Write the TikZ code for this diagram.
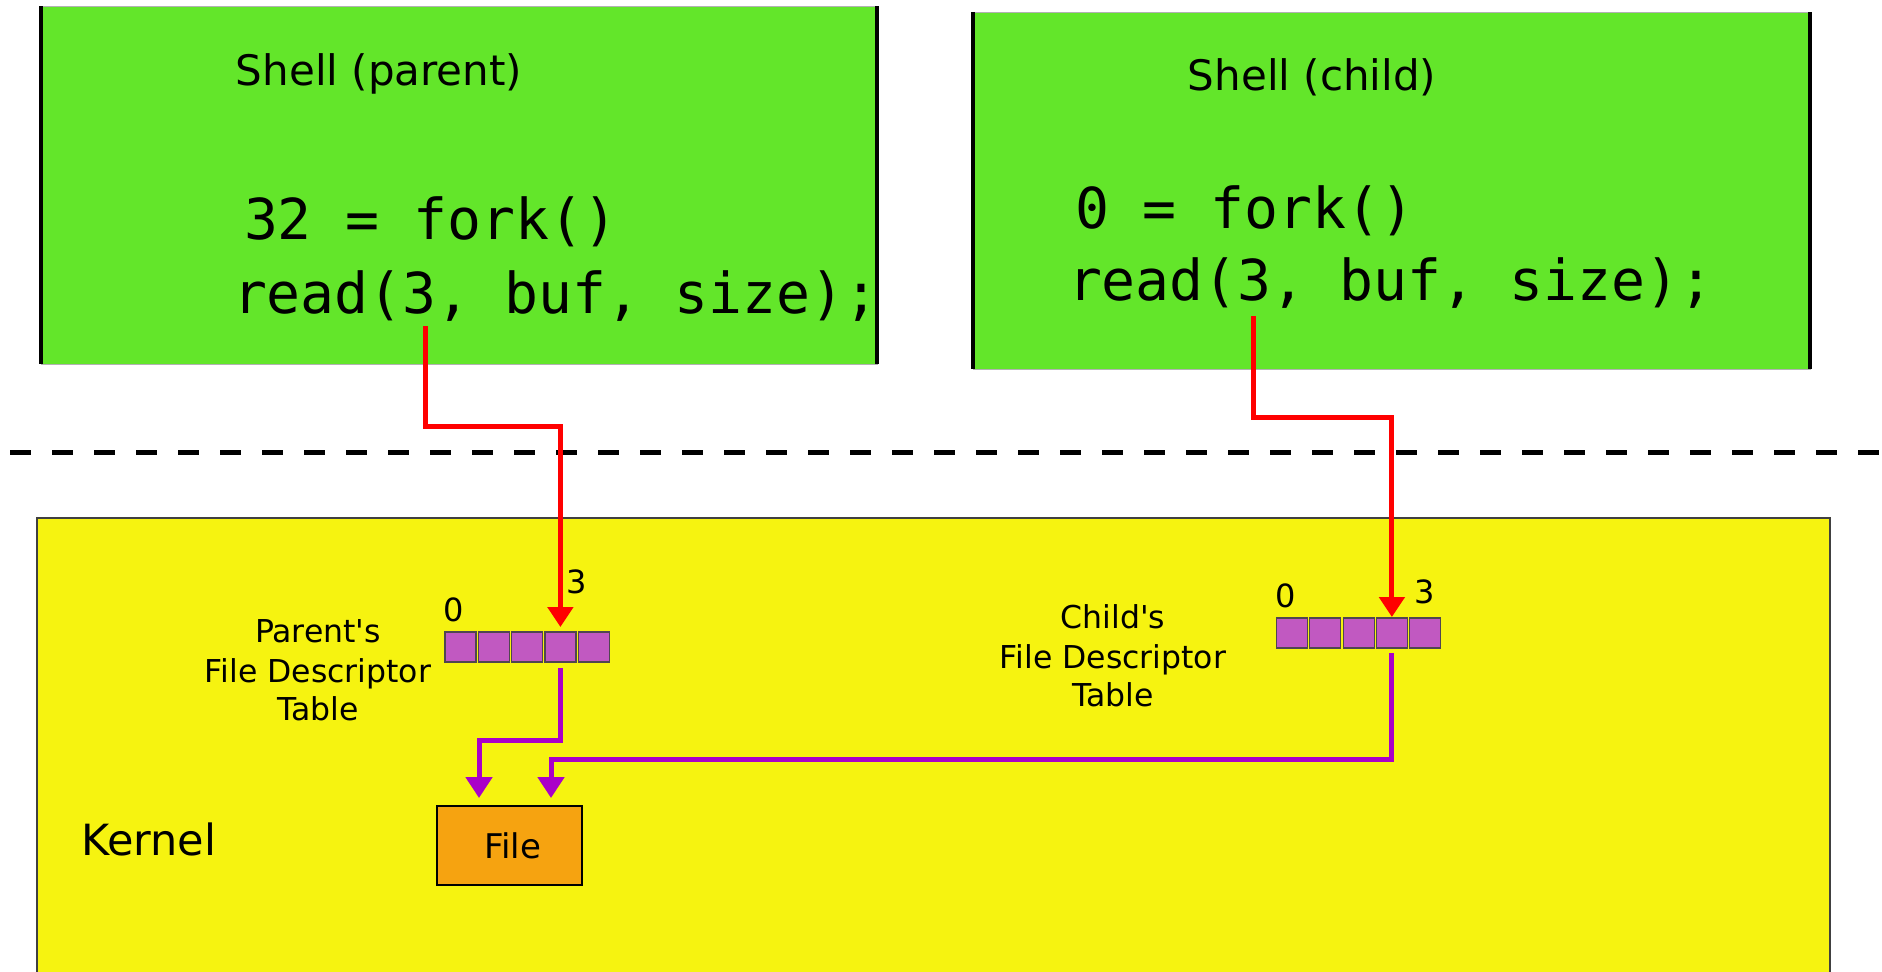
\documentclass[tikz,border=0pt]{standalone}
\usepackage{fontspec}
\setmainfont{DejaVu Sans}
\newfontfamily\codefont{DejaVu Sans Mono}
\usetikzlibrary{arrows.meta}
\definecolor{shellgreen}{RGB}{99,230,42}
\definecolor{kernyellow}{RGB}{246,243,16}
\definecolor{fileorange}{RGB}{246,163,16}
\definecolor{cellpurple}{RGB}{193,89,193}
\definecolor{arrpurple}{RGB}{170,0,200}
\definecolor{celledge}{RGB}{80,70,80}
\begin{document}
\begin{tikzpicture}[x=0.5pt,y=-0.5pt,
  every node/.style={inner sep=0pt, outer sep=0pt},
  shellbox/.style={fill=shellgreen, draw=black!30, line width=0.5pt},
  sideline/.style={draw=black, line width=2pt},
  kernbox/.style={fill=kernyellow, draw=black!75, line width=1pt},
  filebox/.style={fill=fileorange, draw=black, line width=0.8pt, minimum width=72.5pt, minimum height=39.5pt, font=\fontsize{17pt}{20pt}\selectfont},
  cellbox/.style={fill=cellpurple, draw=celledge, line width=0.6pt, minimum width=15.5pt, minimum height=15pt},
  titletext/.style={font=\fontsize{21pt}{25pt}\selectfont, anchor=base},
  codetext/.style={font=\codefont\fontsize{28.2pt}{34pt}\selectfont, anchor=base west},
  labeltext/.style={font=\fontsize{15.75pt}{19.5pt}\selectfont, anchor=base},
  idxtext/.style={font=\fontsize{16pt}{19pt}\selectfont, anchor=base},
  redarr/.style={draw=red, line width=2.5pt, -{Triangle[width=12.5pt,length=10pt]}},
  purarr/.style={draw=arrpurple, line width=2.5pt, -{Triangle[width=13pt,length=10.5pt]}},
  sepline/.style={draw=black, line width=2.5pt, dash pattern=on 10.5pt off 10.5pt}]
\useasboundingbox (0,0) rectangle (1882,971);
\fill[white] (0,0) rectangle (1882,971);

% user-space shells
\node[shellbox, minimum width=418pt, minimum height=179pt] (parentbox) at (459,185) {};
\draw[sideline] (parentbox.north west) -- (parentbox.south west);
\draw[sideline] (parentbox.north east) -- (parentbox.south east);
\node[shellbox, minimum width=418.5pt, minimum height=178.5pt] (childbox) at (1391.5,190.5) {};
\draw[sideline] (childbox.north west) -- (childbox.south west);
\draw[sideline] (childbox.north east) -- (childbox.south east);

\node[titletext] (ptitle) at (379,85) {Shell (parent)};
\node[titletext] (ctitle) at (1312,90) {Shell (child)};
\node[codetext] (pcode1) at (244,239) {32 = fork()};
\node[codetext] (pcode2) at (233,313) {read(3, buf, size);};
\node[codetext] (ccode1) at (1075,228) {0 = fork()};
\node[codetext] (ccode2) at (1068,300) {read(3, buf, size);};

% separator
\coordinate (sepL) at (10,452);
\coordinate (sepR) at (1882,452);
\draw[sepline] (sepL) -- (sepR);

% kernel
\node[kernbox, minimum width=896.5pt, minimum height=241pt] (kernel) at (933.5,759) {};
\node[font=\fontsize{21.5pt}{25pt}\selectfont, anchor=base west] (kernlabel) at (81,855) {Kernel};

% parent fd table
\foreach \i in {0,...,4} {
  \node[cellbox] (pc\i) at ({460.5+\i*33.3},647) {};
}
\node[idxtext] (p0) at (454,621) {0};
\node[idxtext] (p3lab) at (577,593) {3};
\node[labeltext] (pl1) at (318,642) {Parent\textquotesingle s};
\node[labeltext] (pl2) at (318,682) {File Descriptor};
\node[labeltext] (pl3) at (318,720) {Table};

% child fd table
\foreach \i in {0,...,4} {
  \node[cellbox] (cc\i) at ({1292+\i*33.3},633) {};
}
\node[idxtext] (c0) at (1285.5,607) {0};
\node[idxtext] (c3lab) at (1425,603) {3};
\node[labeltext] (cl1) at (1113,628) {Child\textquotesingle s};
\node[labeltext] (cl2) at (1113,668) {File Descriptor};
\node[labeltext] (cl3) at (1113,706) {Table};

% file
\node[filebox] (file) at (509.5,845.5) {\kern3pt File};
\coordinate (fileL) at ([xshift=-15.25pt]file.north);
\coordinate (fileR) at ([xshift=20.75pt]file.north);

% red arrows
\coordinate (p3) at (425,326);
\coordinate (c3) at (1253,316);
\draw[redarr, shorten >=2.5pt] (p3) -- ++(0,100) -| (pc3.north);
\draw[redarr, shorten >=0.5pt] (c3) -- ++(0,101) -| (cc3.north);

% purple arrows
\draw[purarr, shorten <=3pt, shorten >=4pt] (pc3.south) -- ++(0,78) -| (fileL);
\draw[purarr, shorten <=2.5pt, shorten >=4pt] (cc3.south) -- ++(0,111) -| (fileR);
\end{tikzpicture}
\end{document}
